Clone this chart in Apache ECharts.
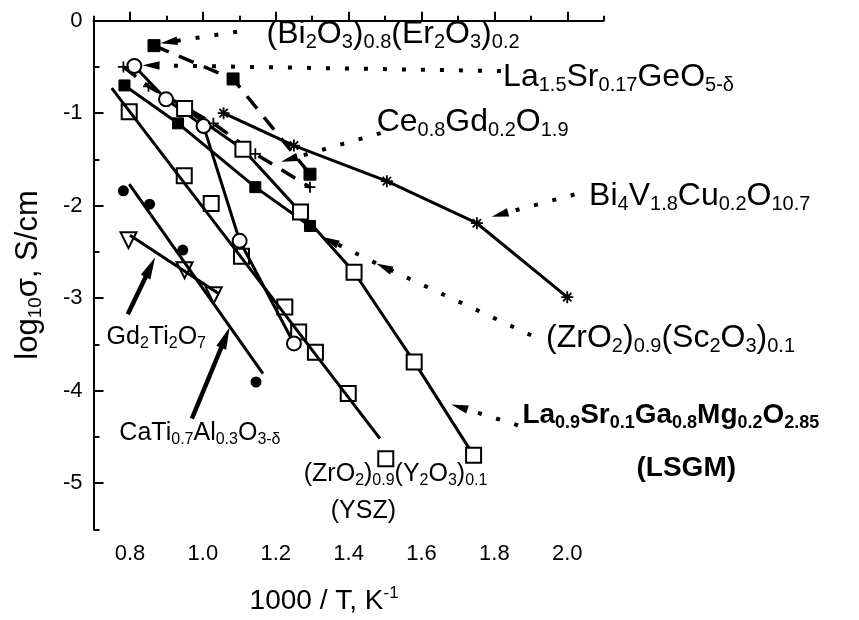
<!DOCTYPE html>
<html>
<head>
<meta charset="utf-8">
<script src="https://cdn.jsdelivr.net/npm/echarts@6/dist/echarts.min.js"></script>
<style>
html, body { margin: 0; padding: 0; background: #fff; }
#chart { width: 859px; height: 620px; }
</style>
</head>
<body>
<div id="chart"></div>
<script>
// axis ticks
var xMajorTicks = [0.8, 1.0, 1.2, 1.4, 1.6, 1.8, 2.0];
var xMinorTicks = [0.7, 0.9, 1.1, 1.3, 1.5, 1.7, 1.9, 2.1];
var yMajorTicks = [-5, -4, -3, -2, -1, 0];
var yMinorTicks = [-5.5, -4.5, -3.5, -2.5, -1.5, -0.5];

// measured points [1000/T, log10 sigma]
var bi2o3Er = [[0.866, -0.27], [1.083, -0.63], [1.294, -1.66]];
var laSrGe = [[0.782, -0.50], [0.851, -0.71], [1.029, -1.11], [1.144, -1.44], [1.294, -1.80]];
var ceGd = [[0.812, -0.49], [0.899, -0.85], [1.002, -1.14], [1.101, -2.38], [1.25, -3.49]];
var bi4vCu = [[1.057, -1.0], [1.25, -1.35], [1.505, -1.735], [1.752, -2.19], [2.0, -2.99]];
var zrSc = [[0.785, -0.70], [0.932, -1.11], [1.144, -1.80], [1.294, -2.22]];
var lsgm = [[0.95, -0.95], [1.11, -1.39], [1.268, -2.07], [1.415, -2.72], [1.58, -3.69], [1.743, -4.70]];
var ysz = [[0.798, -0.985], [0.949, -1.677], [1.023, -1.976], [1.106, -2.547], [1.225, -3.095],
           [1.263, -3.366], [1.309, -3.586], [1.399, -4.032], [1.502, -4.736]];
var yszFit = [[0.75, -0.73], [1.486, -4.52]];
var caTiAl = [[0.782, -1.84], [0.854, -1.984], [0.945, -2.48], [1.146, -3.907]];
var caTiAlFit = [[0.798, -1.767], [1.165, -3.816]];
var gdTi = [[0.796, -2.373], [0.95, -2.698], [1.03, -2.969]];
var gdTiFit = [[0.80, -2.319], [1.043, -2.95]];

// annotation arrows [fromX, fromY, toX, toY], "to" is the middle of the head
var dottedArrows = [
  [1.094, -0.119, 0.907, -0.231],
  [1.818, -0.544, 0.858, -0.482],
  [1.488, -1.215, 1.237, -1.499],
  [2.020, -1.879, 1.815, -2.096],
  [1.901, -3.402, 1.497, -2.663],
  [1.475, -2.622, 1.350, -2.379],
  [1.865, -4.376, 1.704, -4.177]
];
var solidArrows = [
  [0.794, -3.174, 0.856, -2.666],
  [0.970, -4.303, 1.062, -3.426]
];

// annotation texts and their left / middle anchor
var labelTexts = [
  '{m|(Bi}{s|2}{m|O}{s|3}{m|)}{s|0.8}{m|(Er}{s|2}{m|O}{s|3}{m|)}{s|0.2}',
  '{m|La}{s|1.5}{m|Sr}{s|0.17}{m|GeO}{s|5-δ}',
  '{m|Ce}{s|0.8}{m|Gd}{s|0.2}{m|O}{s|1.9}',
  '{m|Bi}{s|4}{m|V}{s|1.8}{m|Cu}{s|0.2}{m|O}{s|10.7}',
  '{m|(ZrO}{s|2}{m|)}{s|0.9}{m|(Sc}{s|2}{m|O}{s|3}{m|)}{s|0.1}',
  '{b|La}{bs|0.9}{b|Sr}{bs|0.1}{b|Ga}{bs|0.8}{b|Mg}{bs|0.2}{b|O}{bs|2.85}',
  '{b|(LSGM)}',
  '{t|(ZrO}{ts|2}{t|)}{ts|0.9}{t|(Y}{ts|2}{t|O}{ts|3}{t|)}{ts|0.1}',
  '{t|(YSZ)}',
  '{t|Gd}{ts|2}{t|Ti}{ts|2}{t|O}{ts|7}',
  '{t|CaTi}{ts|0.7}{t|Al}{ts|0.3}{t|O}{ts|3-δ}'
];
var labelAnchors = [
  [1.175, -0.144], [1.824, -0.61], [1.477, -1.093], [2.06, -1.897],
  [1.942, -3.434], [1.877, -4.267], [2.19, -4.84],
  [1.277, -4.906], [1.351, -5.306], [0.736, -3.423], [0.771, -4.457]
];

var FONT = '"Liberation Sans", Arial, sans-serif';
var plusPath = 'path://M5,0 L5,10 M0,5 L10,5';
var starPath = 'path://M5,0 L5,10 M0,5 L10,5 M1.5,1.5 L8.5,8.5 M8.5,1.5 L1.5,8.5';
var headPath = 'path://M6,0 L12,17 L0,17 Z';

function lineSeries(data, opts) {
  var s = {
    type: 'line',
    data: data,
    symbol: 'none',
    silent: true,
    lineStyle: { color: '#000', width: 3 },
    itemStyle: { color: '#000', borderColor: '#000' }
  };
  for (var k in opts) s[k] = opts[k];
  return s;
}

function arrowSeries(list, lineStyle) {
  return {
    type: 'line', data: [], silent: true,
    markLine: {
      silent: true, animation: false,
      symbol: ['none', 'none'],
      label: { show: false },
      lineStyle: lineStyle,
      data: list.map(function (a) { return [{ coord: [a[0], a[1]] }, { coord: [a[2], a[3]] }]; })
    }
  };
}

function headSeries(id, size) {
  return {
    id: id, type: 'scatter', data: [], silent: true,
    symbol: headPath, symbolSize: size, symbolKeepAspect: true,
    itemStyle: { color: '#000', opacity: 1 }
  };
}

var richStyles = {
  m: { fontSize: 32, lineHeight: 36, fontFamily: FONT, color: '#000' },
  s: { fontSize: 20, lineHeight: 20, fontFamily: FONT, color: '#000', padding: [17, 0, 0, 0] },
  b: { fontSize: 28, lineHeight: 32, fontWeight: 'bold', fontFamily: FONT, color: '#000' },
  bs: { fontSize: 18, lineHeight: 18, fontWeight: 'bold', fontFamily: FONT, color: '#000', padding: [15, 0, 0, 0] },
  t: { fontSize: 25, lineHeight: 28, fontFamily: FONT, color: '#000' },
  ts: { fontSize: 16, lineHeight: 16, fontFamily: FONT, color: '#000', padding: [13, 0, 0, 0] }
};

var chart = echarts.init(document.getElementById('chart'));

var option = {
  animation: false,
  backgroundColor: '#fff',
  grid: { left: 93.5, right: 255.3, top: 20.7, bottom: 90.7, outerBoundsMode: 'none' },
  xAxis: [{
    type: 'value', min: 0.7, max: 2.1,
    name: '{n|1000 / T, K}{sup|-1}',
    nameLocation: 'middle', nameGap: 56,
    nameTextStyle: {
      padding: [0, 49, 0, 0],
      rich: {
        n: { fontSize: 28, fontFamily: FONT, color: '#000', lineHeight: 32 },
        sup: { fontSize: 17, fontFamily: FONT, color: '#000', lineHeight: 17, padding: [0, 0, 16, 0] }
      }
    },
    axisLine: { lineStyle: { color: '#000', width: 2 } },
    axisTick: { inside: true, length: 9, customValues: xMajorTicks, lineStyle: { color: '#000', width: 2 } },
    axisLabel: {
      customValues: xMajorTicks, margin: 14, fontSize: 22, fontFamily: FONT, color: '#000',
      formatter: function (v) { return v.toFixed(1); }
    },
    splitLine: { show: false }
  }, {
    type: 'value', min: 0.7, max: 2.1, gridIndex: 0, position: 'bottom',
    axisLine: { show: false },
    axisTick: { inside: true, length: 5, customValues: xMinorTicks, lineStyle: { color: '#000', width: 2 } },
    axisLabel: { show: false },
    splitLine: { show: false }
  }],
  yAxis: [{
    type: 'value', min: -5.5, max: 0,
    name: '{n|log}{sub|10}{n|σ, S/cm}',
    nameLocation: 'middle', nameGap: 48,
    nameTextStyle: {
      rich: {
        n: { fontSize: 31, fontFamily: FONT, color: '#000', lineHeight: 34 },
        sub: { fontSize: 19, fontFamily: FONT, color: '#000', lineHeight: 19, padding: [15, 0, 0, 0] }
      }
    },
    axisLine: { lineStyle: { color: '#000', width: 2 } },
    axisTick: { inside: true, length: 10, customValues: yMajorTicks, lineStyle: { color: '#000', width: 2 } },
    axisLabel: { customValues: yMajorTicks, margin: 11, fontSize: 22, fontFamily: FONT, color: '#000' },
    splitLine: { show: false }
  }, {
    type: 'value', min: -5.5, max: 0, gridIndex: 0, position: 'left',
    axisLine: { show: false },
    axisTick: { inside: true, length: 6, customValues: yMinorTicks, lineStyle: { color: '#000', width: 2 } },
    axisLabel: { show: false },
    splitLine: { show: false }
  }],
  series: [
    // fitted straight lines
    lineSeries(yszFit, {}),
    lineSeries(caTiAlFit, {}),
    lineSeries(gdTiFit, {}),
    // connected data
    lineSeries(ceGd, { symbol: 'emptyCircle', symbolSize: 14, itemStyle: { color: '#000', borderWidth: 2 } }),
    lineSeries(bi4vCu, { symbol: starPath, symbolSize: 12, itemStyle: { color: '#000', borderColor: '#000', borderWidth: 1.8 } }),
    lineSeries(zrSc, { symbol: 'rect', symbolSize: 11 }),
    lineSeries(lsgm, { symbol: 'emptyRect', symbolSize: 15, itemStyle: { color: '#000', borderWidth: 2 } }),
    lineSeries(bi2o3Er, { symbol: 'rect', symbolSize: 12, lineStyle: { color: '#000', width: 3.5, type: [16, 11] } }),
    lineSeries(laSrGe, { symbol: plusPath, symbolSize: 11, itemStyle: { color: '#000', borderColor: '#000', borderWidth: 1.8 },
      lineStyle: { color: '#000', width: 3.5, type: [16, 11] } }),
    // scattered points on fitted lines
    { type: 'scatter', data: ysz, symbol: 'emptyRect', symbolSize: 15, silent: true,
      itemStyle: { color: '#000', borderWidth: 2, opacity: 1 } },
    { type: 'scatter', data: caTiAl, symbol: 'circle', symbolSize: 11, silent: true, itemStyle: { color: '#000', opacity: 1 } },
    { type: 'scatter', data: gdTi, symbol: 'emptyTriangle', symbolRotate: 180, symbolSize: 16, silent: true,
      itemStyle: { color: '#000', borderWidth: 2, opacity: 1 } },
    // arrows
    arrowSeries(dottedArrows, { color: '#000', width: 4, type: [4, 15] }),
    arrowSeries(solidArrows, { color: '#000', width: 4.5, type: 'solid' }),
    headSeries('dottedHeads', [12, 17]),
    headSeries('solidHeads', [15, 22]),
    // texts
    { type: 'scatter', silent: true, clip: false, symbolSize: 0,
      itemStyle: { opacity: 1 },
      data: labelAnchors.map(function (p, i) { return [p[0], p[1], i]; }),
      label: {
        show: true, position: [0, 0], align: 'left', verticalAlign: 'middle', opacity: 1, color: '#000',
        formatter: function (p) { return labelTexts[p.data[2]]; },
        rich: richStyles
      } }
  ]
};

chart.setOption(option);

// arrow heads: rotate along each arrow once the axes exist
function heads(list) {
  return list.map(function (a) {
    var p0 = chart.convertToPixel({ gridIndex: 0 }, [a[0], a[1]]);
    var p1 = chart.convertToPixel({ gridIndex: 0 }, [a[2], a[3]]);
    var deg = Math.atan2(-(p1[1] - p0[1]), p1[0] - p0[0]) * 180 / Math.PI - 90;
    return { value: [a[2], a[3]], symbolRotate: deg };
  });
}
chart.setOption({
  series: [
    { id: 'dottedHeads', data: heads(dottedArrows) },
    { id: 'solidHeads', data: heads(solidArrows) }
  ]
});
</script>
</body>
</html>
